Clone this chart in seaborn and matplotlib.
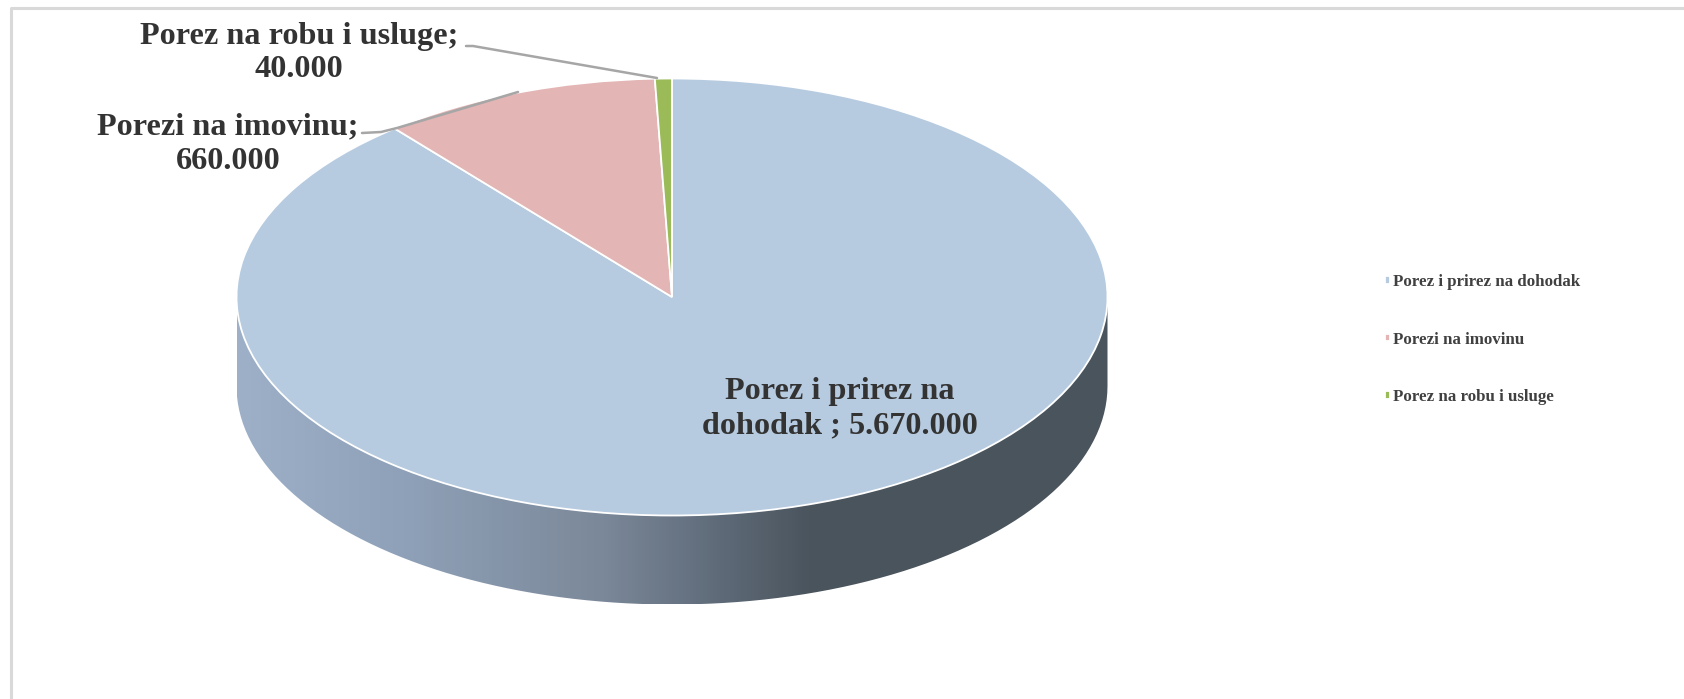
# porezni prihodi - pie chart with a 3D look

import numpy as np
import matplotlib
matplotlib.use('Agg')
import matplotlib.pyplot as plt
from matplotlib.colors import LinearSegmentedColormap
from matplotlib.patches import PathPatch
from matplotlib.path import Path
import seaborn as sns

# ========== Data ==========
categories = ['Porez i prirez na dohodak', 'Porezi na imovinu', 'Porez na robu i usluge']
values = [5670000, 660000, 40000]
colors = ['#B7CBE0', '#E4B5B5', '#9BBB59']

sns.set_theme(style='white')
plt.rcParams['font.family'] = ['Liberation Serif', 'DejaVu Serif']
plt.rcParams['font.weight'] = 'bold'

W, H = 1684, 699
cx, cy, rx, ry, depth = 672, 297, 435.5, 218.5, 89
text_color = '#333333'

fig = plt.figure(figsize=(W / 100, H / 100), dpi=100, facecolor='white')

# background axes in pixel coordinates
ax = fig.add_axes([0, 0, 1, 1])
ax.set_xlim(0, W)
ax.set_ylim(H, 0)
ax.axis('off')

# chart frame
ax.plot([11, 11, W], [H, 8, 8], color='#D9D9D9', lw=2.2, solid_capstyle='butt')

# side wall of the pie with a gradient
t = np.linspace(0, np.pi, 200)
front_x = cx + rx * np.cos(t)
front_y = cy + ry * np.sin(t)
wall = np.column_stack([
    np.r_[front_x, front_x[::-1]],
    np.r_[front_y + depth, front_y[::-1]],
])
wall_patch = PathPatch(Path(wall), fc='none', ec='none')
ax.add_patch(wall_patch)
side_cmap = LinearSegmentedColormap.from_list('side', [
    (0.0, '#9DB0C8'), (0.19, '#8FA1B8'), (0.42, '#7B8899'), (0.556, '#5E6A78'), (0.66, '#4A545D'), (1.0, '#4A545C'),
])
grad = ax.imshow(np.linspace(0, 1, 256).reshape(1, -1), cmap=side_cmap, aspect='auto',
                 extent=[cx - rx, cx + rx, cy + ry + depth, cy - 5], zorder=1)
grad.set_clip_path(wall_patch)
ax.set_xlim(0, W)
ax.set_ylim(H, 0)

# pie top, on its own axes stretched to an ellipse
pie_ax = fig.add_axes([(cx - rx) / W, 1 - (cy + ry) / H, 2 * rx / W, 2 * ry / H])
pie_ax.patch.set_alpha(0)
wedges, _ = pie_ax.pie(values, colors=colors, startangle=90, counterclock=False, radius=1,
                       wedgeprops={'edgecolor': 'white', 'linewidth': 1.3})
pie_ax.set_aspect('auto')
pie_ax.set_xlim(-1, 1)
pie_ax.set_ylim(-1, 1)

# labels on a top layer, pixel coordinates again
top = fig.add_axes([0, 0, 1, 1])
top.set_xlim(0, W)
top.set_ylim(H, 0)
top.axis('off')

top.text(840, 409, 'Porez i prirez na\ndohodak ; 5.670.000', ha='center', va='center',
         fontsize=23.2, color=text_color, linespacing=1.24)
top.text(299, 53, 'Porez na robu i usluge;\n40.000', ha='center', va='center', fontsize=23.2,
         color=text_color, linespacing=1.22)
top.text(228, 144, 'Porezi na imovinu;\n660.000', ha='center', va='center', fontsize=23.2,
         color=text_color, linespacing=1.28)

# leader lines
top.plot([362, 381, 397, 518], [133, 132, 128, 92], color='#A6A6A6', lw=1.8)
top.plot([466, 473, 657], [46, 46, 78], color='#A6A6A6', lw=1.8)

# legend
fig.legend(wedges, categories, loc='upper left', bbox_to_anchor=(1370 / W, 1 - 259 / H), frameon=False,
           fontsize=12.2, labelcolor='#404040', handlelength=0.3, handleheight=0.3,
           handletextpad=0.16, labelspacing=2.45)

plt.savefig('out.png', dpi=100)
